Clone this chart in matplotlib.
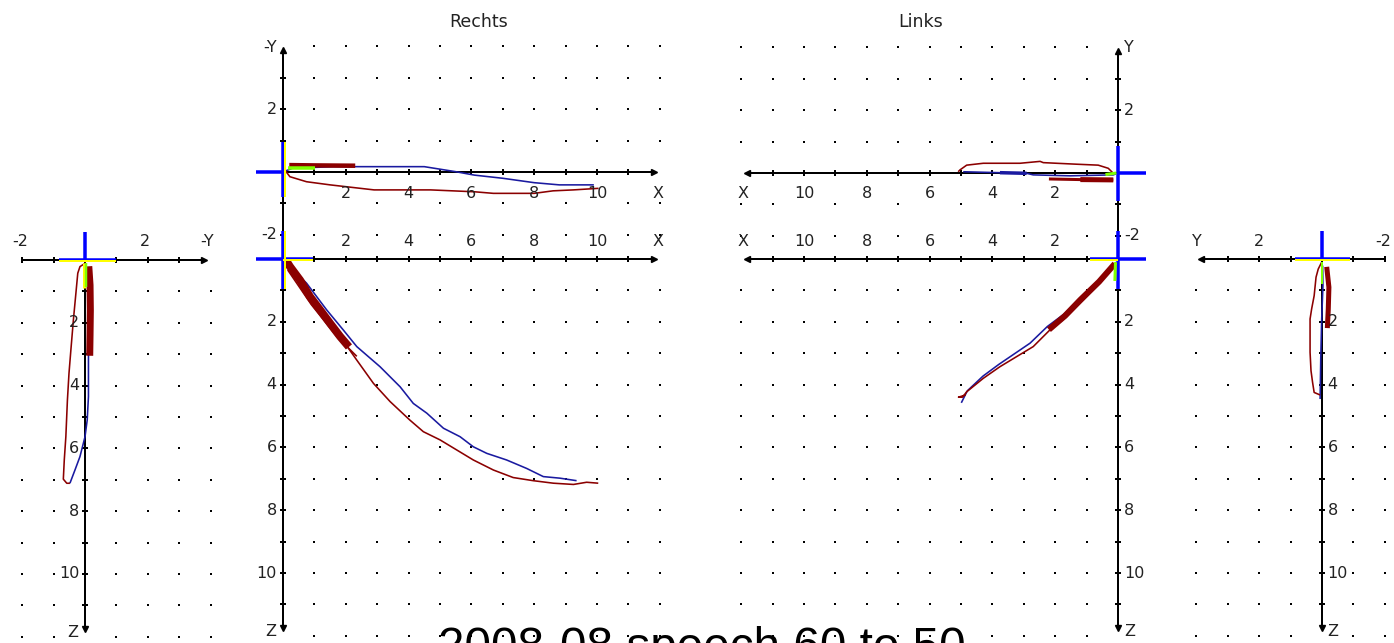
import matplotlib
matplotlib.use("Agg")
import matplotlib.pyplot as plt

# ---------------- data ----------------
# Rechts, top view (X vs -Y)
rt_blue_x = [0.0, 0.3, 1.6, 4.5, 5.5, 6.1, 7.0, 8.0, 8.8, 9.9]
rt_blue_y = [0.0, 0.12, 0.17, 0.17, 0.01, -0.1, -0.2, -0.34, -0.41, -0.41]
rt_red_x = [0.06, 0.22, 0.75, 1.5, 2.9, 4.7, 6.1, 6.7, 8.0, 8.6, 9.25, 10.05]
rt_red_y = [0.06, -0.15, -0.31, -0.41, -0.57, -0.57, -0.63, -0.68, -0.68, -0.6, -0.57, -0.52]
rt_dense_x = [0.2, 1.0, 2.3]
rt_dense_y = [0.22, 0.21, 0.2]
rt_green_x = [0.15, 1.02]
rt_green_y = [0.12, 0.12]

# Rechts, front view (X vs Z)
rc_blue_x = [0.0, 0.12, 0.75, 1.39, 1.92, 2.35, 3.09, 3.73, 4.15, 4.58, 5.11, 5.64, 6.06, 6.49, 7.12, 7.76, 8.29, 8.82, 9.35]
rc_blue_z = [0.0, 0.14, 0.77, 1.62, 2.26, 2.79, 3.43, 4.07, 4.60, 4.91, 5.39, 5.66, 5.98, 6.19, 6.40, 6.67, 6.93, 6.98, 7.06]
rc_red_x = [0.05, 0.4, 1.1, 1.82, 2.35, 2.88, 3.41, 4.04, 4.47, 5.0, 5.53, 6.06, 6.70, 7.33, 7.97, 8.61, 9.25, 9.67, 10.04]
rc_red_z = [0.05, 0.55, 1.5, 2.47, 3.22, 3.96, 4.54, 5.13, 5.50, 5.76, 6.08, 6.40, 6.72, 6.96, 7.06, 7.14, 7.18, 7.11, 7.14]
rc_red2_x = [0.15, 0.9, 1.7, 2.35]
rc_red2_z = [0.35, 1.45, 2.45, 3.1]
rc_dense_x = [0.1, 0.22, 0.54, 0.86, 1.18, 1.5, 1.82, 2.1]
rc_dense_z = [0.05, 0.24, 0.67, 1.2, 1.62, 2.05, 2.47, 2.8]

# Rechts, side view (-Y vs Z)
ls_red_h = [0.03, -0.16, -0.23, -0.29, -0.37, -0.45, -0.51, -0.56, -0.61, -0.66, -0.69, -0.58, -0.48]
ls_red_z = [0.09, 0.21, 0.42, 1.06, 1.91, 2.87, 3.61, 4.46, 5.63, 6.37, 6.98, 7.11, 7.11]
ls_blue_h = [-0.48, -0.32, -0.16, 0.0, 0.07, 0.11, 0.11, 0.12, 0.09, 0.03]
ls_blue_z = [7.11, 6.69, 6.26, 5.63, 5.10, 4.35, 3.18, 2.23, 0.85, 0.1]
ls_dense_h = [0.12, 0.16, 0.17, 0.16, 0.15]
ls_dense_z = [0.2, 0.8, 1.6, 2.4, 3.05]

# Links, top view (X vs Y)
lt_red_x = [0.15, 0.31, 0.63, 1.32, 2.38, 2.48, 3.12, 4.29, 4.82, 5.03, 5.09]
lt_red_y = [-0.01, 0.15, 0.25, 0.28, 0.33, 0.37, 0.31, 0.31, 0.25, 0.1, 0.04]
lt_blue_x = [4.93, 3.76, 2.91, 2.70, 1.53, 0.15, 0.0]
lt_blue_y = [0.04, 0.01, -0.01, -0.06, -0.09, -0.06, 0.0]
lt_dense_x = [2.2, 1.2, 0.15]
lt_dense_y = [-0.19, -0.21, -0.22]

# Links, front view (X vs Z)
lb_blue_x = [0.05, 0.6, 1.15, 1.7, 2.25, 2.8, 3.3, 3.8, 4.3, 4.8, 4.99]
lb_blue_z = [0.1, 0.7, 1.22, 1.74, 2.15, 2.68, 3.02, 3.36, 3.73, 4.2, 4.58]
lb_red_x = [0.1, 0.57, 1.1, 1.63, 2.17, 2.70, 3.23, 3.76, 4.29, 4.82, 4.95, 5.08, 4.85]
lb_red_z = [0.14, 0.77, 1.31, 1.84, 2.26, 2.79, 3.11, 3.43, 3.80, 4.23, 4.40, 4.40, 4.33]
lb_dense_x = [0.1, 0.6, 1.2, 1.7, 2.2]
lb_dense_z = [0.15, 0.72, 1.3, 1.82, 2.25]

# Links, side view (Y vs Z)
rs_red_y = [0.01, 0.12, 0.19, 0.25, 0.33, 0.38, 0.38, 0.35, 0.30, 0.25, 0.06]
rs_red_z = [0.1, 0.32, 0.58, 1.17, 1.59, 1.91, 2.97, 3.56, 3.93, 4.25, 4.33]
rs_blue_y = [0.06, 0.04, 0.01, -0.03, -0.02]
rs_blue_z = [4.46, 3.18, 1.91, 0.85, 0.21]
rs_dense_y = [-0.15, -0.22, -0.2, -0.17]
rs_dense_z = [0.25, 0.9, 1.6, 2.2]

tick_vals_even = [2, 4, 6, 8, 10]

# ---------------- style ----------------
W, H = 1394, 643
S = 31.4  # pixels per unit
RED = "#8b0000"
BLUE = "#1a1aa0"
CROSS = "#0000ff"
YEL = "#ffff00"
GRN = "#80ff00"
TXT = "#222222"
PT = 72.0 / 100.0  # points per pixel

fig = plt.figure(figsize=(W / 100, H / 100), dpi=100)
fig.patch.set_facecolor("white")


def make_ax(ox, oy, hdir, vdir, hr, vr):
    h0, h1 = hr
    v0, v1 = vr
    xs = [ox + hdir * h0 * S, ox + hdir * h1 * S]
    ys = [oy + vdir * v0 * S, oy + vdir * v1 * S]
    left, right = min(xs), max(xs)
    top, bottom = min(ys), max(ys)
    ax = fig.add_axes([left / W, 1 - bottom / H, (right - left) / W, (bottom - top) / H])
    if hdir > 0:
        ax.set_xlim(h0, h1)
    else:
        ax.set_xlim(h1, h0)
    if vdir > 0:
        ax.set_ylim(v1, v0)
    else:
        ax.set_ylim(v0, v1)
    ax.axis("off")
    ax.patch.set_visible(False)
    return ax


def line(ax, x, y, color, lwpx, z=3, **kw):
    ax.plot(x, y, color=color, lw=lwpx * PT, clip_on=False, zorder=z,
            solid_capstyle="butt", solid_joinstyle="round", **kw)


def dots(ax, hs, vs, skip=()):
    pts = [(h, v) for h in hs for v in vs if (h, v) not in skip]
    ax.scatter([p[0] for p in pts], [p[1] for p in pts], s=2.2, c="black",
               marker="s", linewidths=0, clip_on=False, zorder=1)


def haxis(ax, a, b, ticks, arrow_marker, arrow_at):
    line(ax, [a, b], [0, 0], "black", 2, z=2)
    for t in ticks:
        line(ax, [t, t], [-0.09, 0.09], "black", 2, z=2)
    ax.plot([arrow_at], [0], marker=arrow_marker, ms=5, color="black", clip_on=False, zorder=2)


def vaxis(ax, a, b, ticks, arrow_marker, arrow_at):
    line(ax, [0, 0], [a, b], "black", 2, z=2)
    for t in ticks:
        line(ax, [-0.09, 0.09], [t, t], "black", 2, z=2)
    ax.plot([0], [arrow_at], marker=arrow_marker, ms=5, color="black", clip_on=False, zorder=2)


def lab(ax, h, v, s, ha="center", size=11.5):
    ax.text(h, v, s, ha=ha, va="center", fontsize=size, color=TXT,
            family="DejaVu Sans", clip_on=False, zorder=5)


def cross(ax, hl, hr, vl, vr):
    line(ax, [hl, hr], [0, 0], CROSS, 3.5, z=4)
    line(ax, [0, 0], [vl, vr], CROSS, 3.5, z=4)


label_skip = [(x, v) for x in tick_vals_even for v in (-1, -2)]

# ---------------- Panel A: left side (-Y right, Z down) ----------------
axA = make_ax(85, 260, +1, +1, (-2.5, 4.5), (-1, 12.5))
dots(axA, [-2, -1, 1, 2, 3, 4], list(range(1, 13)))
haxis(axA, -2, 3.8, [-2, -1, 1, 2, 3], ">", 3.8)
vaxis(axA, 0, 11.75, list(range(1, 12)), "v", 11.75)
lab(axA, -2.07, -0.58, "-2")
lab(axA, 1.9, -0.58, "2")
lab(axA, 3.9, -0.58, "-Y")
for t in tick_vals_even:
    lab(axA, -0.18, t, str(t), ha="right")
lab(axA, -0.2, 11.85, "Z", ha="right")
cross(axA, -0.82, 1.0, -0.9, 0.0)
line(axA, [-0.82, 1.0], [0.04, 0.04], YEL, 2, z=4.5)
line(axA, [-0.03, -0.03], [0.1, 0.9], YEL, 3, z=4.5)
line(axA, [0.04, 0.04], [0.1, 0.85], GRN, 2.5, z=4.6)
line(axA, ls_dense_h, ls_dense_z, RED, 7, z=3.2)
line(axA, ls_red_h, ls_red_z, RED, 1.6, z=3.1)
line(axA, ls_blue_h, ls_blue_z, BLUE, 1.6, z=3.0)

# ---------------- Panel B: Rechts top (X right, -Y up) ----------------
axB = make_ax(283, 172, +1, -1, (-1, 12.5), (-3, 4.5))
dots(axB, list(range(1, 13)), [-2, -1, 1, 2, 3, 4], skip=label_skip)
haxis(axB, 0, 11.8, list(range(1, 12)), ">", 11.8)
vaxis(axB, -2.77, 3.9, [-2, -1, 1, 2, 3], "^", 3.9)
for t in tick_vals_even:
    lab(axB, t, -0.7, str(t))
lab(axB, 11.95, -0.7, "X")
lab(axB, -0.2, 2, "2", ha="right")
lab(axB, -0.2, -2, "-2", ha="right")
lab(axB, -0.2, 3.95, "-Y", ha="right")
cross(axB, -0.85, 0.0, -0.8, 0.97)
line(axB, [0.06, 0.06], [-0.8, 0.97], YEL, 2, z=4.5)
line(axB, rt_blue_x, rt_blue_y, BLUE, 1.6, z=3.0)
line(axB, rt_red_x, rt_red_y, RED, 1.6, z=3.1)
line(axB, rt_dense_x, rt_dense_y, RED, 4.5, z=3.2)
line(axB, rt_green_x, rt_green_y, GRN, 3.5, z=4.6)

# ---------------- Panel C: Rechts front (X right, Z down) ----------------
axC = make_ax(283, 259, +1, +1, (-1, 12.5), (-1, 12.5))
dots(axC, list(range(1, 13)), list(range(1, 13)))
haxis(axC, 0, 11.8, list(range(1, 12)), ">", 11.8)
vaxis(axC, 0, 11.75, list(range(1, 12)), "v", 11.75)
for t in tick_vals_even:
    lab(axC, t, -0.55, str(t))
    lab(axC, -0.2, t, str(t), ha="right")
lab(axC, 11.95, -0.55, "X")
lab(axC, -0.2, 11.85, "Z", ha="right")
cross(axC, -0.85, 0.95, -0.9, 0.95)
line(axC, [0.0, 0.95], [0.04, 0.04], YEL, 2, z=4.5)
line(axC, [0.06, 0.06], [-0.9, 0.95], YEL, 2, z=4.5)
line(axC, rc_blue_x, rc_blue_z, BLUE, 1.6, z=3.0)
line(axC, rc_red_x, rc_red_z, RED, 1.6, z=3.1)
line(axC, rc_red2_x, rc_red2_z, RED, 1.6, z=3.1)
line(axC, rc_dense_x, rc_dense_z, RED, 8, z=3.2)

# ---------------- Panel D: Links top (X left, Y up) ----------------
axD = make_ax(1118, 173, -1, -1, (-1, 12.5), (-3, 4.5))
dots(axD, list(range(1, 13)), [-2, -1, 1, 2, 3, 4], skip=label_skip)
haxis(axD, 0, 11.8, list(range(1, 12)), "<", 11.8)
vaxis(axD, -2.75, 3.9, [-2, -1, 1, 2, 3], "^", 3.9)
for t in tick_vals_even:
    lab(axD, t, -0.66, str(t))
lab(axD, 11.95, -0.66, "X")
lab(axD, -0.2, 2, "2", ha="left")
lab(axD, -0.2, -2, "-2", ha="left")
lab(axD, -0.2, 4.0, "Y", ha="left")
cross(axD, -0.9, 0.0, -0.9, 0.85)
line(axD, lt_red_x, lt_red_y, RED, 1.6, z=3.1)
line(axD, lt_blue_x, lt_blue_y, BLUE, 1.6, z=3.0)
line(axD, lt_blue_x[1:3], lt_blue_y[1:3], BLUE, 3.5, z=3.0)
line(axD, lt_dense_x, lt_dense_y, RED, 3, z=3.2)
line(axD, lt_dense_x[1:], lt_dense_y[1:], RED, 5, z=3.2)
line(axD, [0.05, 0.4], [0.0, -0.05], GRN, 3, z=4.6)

# ---------------- Panel E: Links front (X left, Z down) ----------------
axE = make_ax(1118, 259, -1, +1, (-1, 12.5), (-1, 12.5))
dots(axE, list(range(1, 13)), list(range(1, 13)))
haxis(axE, 0, 11.8, list(range(1, 12)), "<", 11.8)
vaxis(axE, 0, 11.75, list(range(1, 12)), "v", 11.75)
for t in tick_vals_even:
    lab(axE, t, -0.55, str(t))
    lab(axE, -0.2, t, str(t), ha="left")
lab(axE, 11.95, -0.55, "X")
lab(axE, -0.2, 11.85, "Z", ha="left")
cross(axE, -0.9, 0.9, -0.9, 0.95)
line(axE, [0.0, 0.9], [0.04, 0.04], YEL, 2, z=4.5)
line(axE, lb_blue_x, lb_blue_z, BLUE, 1.6, z=3.0)
line(axE, lb_red_x, lb_red_z, RED, 1.6, z=3.1)
line(axE, lb_dense_x, lb_dense_z, RED, 6, z=3.2)
line(axE, [0.08, 0.1], [0.1, 0.7], GRN, 3, z=4.6)

# ---------------- Panel F: Links side (Y left, Z down) ----------------
axF = make_ax(1322, 259, -1, +1, (-2.5, 4.5), (-1, 12.5))
dots(axF, [-2, -1, 1, 2, 3, 4], list(range(1, 13)))
haxis(axF, -2, 3.85, [-2, -1, 1, 2, 3], "<", 3.85)
vaxis(axF, 0, 11.75, list(range(1, 12)), "v", 11.75)
lab(axF, 4.0, -0.55, "Y")
lab(axF, 2.0, -0.55, "2")
lab(axF, -1.95, -0.55, "-2")
for t in tick_vals_even:
    lab(axF, -0.18, t, str(t), ha="left")
lab(axF, -0.18, 11.85, "Z", ha="left")
cross(axF, -0.9, 0.85, -0.9, 0.0)
line(axF, [-0.9, 0.85], [0.04, 0.04], YEL, 2, z=4.5)
line(axF, rs_dense_y, rs_dense_z, RED, 5, z=3.2)
line(axF, rs_red_y, rs_red_z, RED, 1.6, z=3.1)
line(axF, rs_blue_y, rs_blue_z, BLUE, 1.6, z=3.0)
line(axF, [0.0, 0.0], [0.1, 0.8], GRN, 2, z=4.6)

# ---------------- titles ----------------
fig.text(479 / W, 1 - 22 / H, "Rechts", ha="center", va="center",
         fontsize=12.5, color=TXT, family="DejaVu Sans")
fig.text(921 / W, 1 - 22 / H, "Links", ha="center", va="center",
         fontsize=12.5, color=TXT, family="DejaVu Sans")
# the caption runs off the bottom edge, as in the reference
fig.text(701.5 / W, 1 - 661 / H, "2008-08 speech 60 to 50", ha="center",
         va="baseline", fontsize=34.3, color="black", family="Liberation Sans")

fig.savefig("out.png", dpi=100, facecolor="white")
